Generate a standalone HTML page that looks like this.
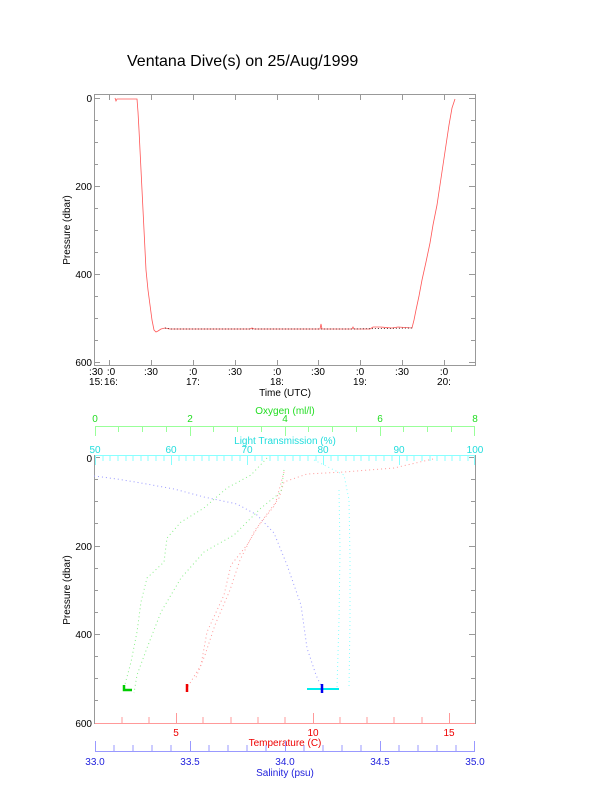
<!DOCTYPE html>
<html><head><style>
html,body{margin:0;padding:0;background:#fff;}
svg{display:block;font-family:"Liberation Sans",sans-serif;}
</style></head><body>
<svg width="612" height="785" viewBox="0 0 612 785" xmlns="http://www.w3.org/2000/svg">
<text x="127" y="66" font-size="16" fill="#000">Ventana Dive(s) on 25/Aug/1999</text>

<!-- TOP PLOT -->
<rect x="94.5" y="94.5" width="381" height="271" fill="none" stroke="#999" stroke-width="1"/>
<g stroke="#999" stroke-width="1">
<path d="M94 98.5h6M94 120.5h4M94 142.5h4M94 164.5h4M94 186.5h6M94 208.5h4M94 230.5h4M94 252.5h4M94 274.5h6M94 296.5h4M94 318.5h4M94 340.5h4M94 362.5h6"/>
<path d="M475 98.5h-6M475 120.5h-4M475 142.5h-4M475 164.5h-4M475 186.5h-6M475 208.5h-4M475 230.5h-4M475 252.5h-4M475 274.5h-6M475 296.5h-4M475 318.5h-4M475 340.5h-4M475 362.5h-6"/>
<path d="M109.5 365v-5M151.5 365v-5M193.5 365v-5M235.5 365v-5M277.5 365v-5M318.5 365v-5M360.5 365v-5M402.5 365v-5M444.5 365v-5"/>
<path d="M109.5 95v5M151.5 95v5M193.5 95v5M235.5 95v5M277.5 95v5M318.5 95v5M360.5 95v5M402.5 95v5M444.5 95v5"/>
</g>
<g font-size="10" fill="#000" text-anchor="end">
<text x="92" y="102">0</text><text x="92" y="190">200</text><text x="92" y="278">400</text><text x="92" y="366">600</text>
</g>
<g font-size="10" fill="#000" text-anchor="middle">
<text x="96" y="375">:30</text><text x="111" y="375">:0</text><text x="151" y="375">:30</text><text x="193" y="375">:0</text><text x="235" y="375">:30</text><text x="277" y="375">:0</text><text x="318" y="375">:30</text><text x="360" y="375">:0</text><text x="402" y="375">:30</text><text x="444" y="375">:0</text>
<text x="96" y="385">15:</text><text x="111" y="385">16:</text><text x="193" y="385">17:</text><text x="277" y="385">18:</text><text x="360" y="385">19:</text><text x="444" y="385">20:</text>
<text x="285" y="396">Time (UTC)</text>
</g>
<text transform="translate(70,230) rotate(-90)" font-size="10" text-anchor="middle">Pressure (dbar)</text>
<polyline fill="none" stroke="#f55" stroke-width="0.8" points="115,98 116,101 117,99 137,99 138,112 139,130 140,150 141,170 142,190 143,210 144,230 145,250 146,270 148,290 150,305 152,320 154,330 156,332 158,331 161,329 165,328 170,329 250,329 252,328 254,329 320,329 321,324 322,329 352,329 353,327 354,329 370,329 373,327 380,327 392,328 398,327 412,328 414,320 416,310 419,296 422,280 426,262 430,243 433,225 437,205 440,185 443,165 446,145 449,125 452,108 455,99"/>
<polyline fill="none" stroke="#300" stroke-width="0.8" stroke-dasharray="1 2" points="165,328 170,329 250,329 320,329 352,329 412,328"/>

<!-- BOTTOM PLOT -->
<rect x="94.5" y="455.5" width="381" height="268" fill="none" stroke="#999" stroke-width="1"/>
<g stroke="#999" stroke-width="1">
<path d="M94 457.5h6M94 479.5h4M94 501.5h4M94 523.5h4M94 546.5h6M94 568.5h4M94 590.5h4M94 612.5h4M94 634.5h6M94 656.5h4M94 678.5h4M94 700.5h4"/>
<path d="M475 457.5h-6M475 479.5h-4M475 501.5h-4M475 523.5h-4M475 546.5h-6M475 568.5h-4M475 590.5h-4M475 612.5h-4M475 634.5h-6M475 656.5h-4M475 678.5h-4M475 700.5h-4"/>
</g>
<g font-size="10" fill="#000" text-anchor="end">
<text x="92" y="462">0</text><text x="92" y="550">200</text><text x="92" y="638">400</text><text x="92" y="727">600</text>
</g>
<text transform="translate(70,590) rotate(-90)" font-size="10" text-anchor="middle">Pressure (dbar)</text>

<g stroke="#9f9" stroke-width="1"><path d="M95 426.5H475"/>
<path d="M95.5 426v10M118.5 426v6M142.5 426v6M166.5 426v6M190.5 426v10M213.5 426v6M237.5 426v6M261.5 426v6M285.5 426v10M308.5 426v6M332.5 426v6M356.5 426v6M380.5 426v10M403.5 426v6M427.5 426v6M451.5 426v6M474.5 426v10"/></g>
<g font-size="10" fill="#2d2" text-anchor="middle">
<text x="95" y="422">0</text><text x="190" y="422">2</text><text x="285" y="422">4</text><text x="380" y="422">6</text><text x="475" y="422">8</text>
<text x="285" y="414">Oxygen (ml/l)</text></g>

<g stroke="#8ff" stroke-width="1"><path d="M95 455.5H475"/>
<path d="M95.5 455v10M171.5 455v10M247.5 455v10M323.5 455v10M399.5 455v10M474.5 455v10"/>
<path d="M103 455v6M110 455v6M118 455v6M126 455v6M133 455v6M141 455v6M148 455v6M156 455v6M164 455v6M179 455v6M186 455v6M194 455v6M202 455v6M209 455v6M217 455v6M224 455v6M232 455v6M240 455v6M255 455v6M262 455v6M270 455v6M278 455v6M285 455v6M293 455v6M300 455v6M308 455v6M316 455v6M331 455v6M338 455v6M346 455v6M354 455v6M361 455v6M369 455v6M376 455v6M384 455v6M392 455v6M407 455v6M414 455v6M422 455v6M430 455v6M437 455v6M445 455v6M452 455v6M460 455v6M468 455v6"/></g>
<g font-size="10" fill="#2dd" text-anchor="middle">
<text x="95" y="453">50</text><text x="171" y="453">60</text><text x="247" y="453">70</text><text x="323" y="453">80</text><text x="399" y="453">90</text><text x="475" y="453">100</text>
<text x="285" y="444">Light Transmission (%)</text></g>

<g stroke="#f99" stroke-width="1"><path d="M95 723.5H475"/>
<path d="M176.5 723v-10M313.5 723v-10M449.5 723v-10"/>
<path d="M122 723v-6M149 723v-6M203 723v-6M231 723v-6M258 723v-6M285 723v-6M340 723v-6M367 723v-6M394 723v-6M422 723v-6"/></g>
<g font-size="10" fill="#e00" text-anchor="middle">
<text x="176" y="736">5</text><text x="313" y="736">10</text><text x="449" y="736">15</text>
<text x="285" y="746">Temperature (C)</text></g>

<g stroke="#99f" stroke-width="1"><path d="M95 751.5H475"/>
<path d="M95.5 751v-10M190.5 751v-10M285.5 751v-10M380.5 751v-10M474.5 751v-10"/>
<path d="M114 751v-6M133 751v-6M152 751v-6M171 751v-6M209 751v-6M228 751v-6M247 751v-6M266 751v-6M304 751v-6M323 751v-6M342 751v-6M361 751v-6M399 751v-6M418 751v-6M437 751v-6M456 751v-6"/></g>
<g font-size="10" fill="#22d" text-anchor="middle">
<text x="95" y="765">33.0</text><text x="190" y="765">33.5</text><text x="285" y="765">34.0</text><text x="380" y="765">34.5</text><text x="475" y="765">35.0</text>
<text x="285" y="776">Salinity (psu)</text></g>

<g fill="none" stroke-width="1" stroke-dasharray="1 3">
<polyline stroke="#99f" points="94,476 117,479 141,483 174,489 204,497 237,504 257,515 274,533 287,565 301,605 307,648 316,675 322,688"/>
<polyline stroke="#f99" points="433,459 394,468 344,472 307,474 284,482 279,498 261,522 247,545 231,565 224,595 207,632 201,665 187,688"/>
<polyline stroke="#f99" points="284,472 275,505 255,530 240,560 230,590 215,625 205,655 195,680"/>
<polyline stroke="#8e8" points="267,458 251,475 227,488 204,508 181,522 167,538 164,562 147,578 141,602 137,632 131,662 124,688"/>
<polyline stroke="#8e8" points="284,470 281,492 261,508 234,535 204,552 181,578 161,612 147,648 137,675 134,693"/>
<polyline stroke="#8ff" points="314,460 330,468 344,475 349,500 350,560 350,620 349,688"/>
<polyline stroke="#8ff" points="339,490 340,550 339,620 337,688"/>
</g>
<g stroke-width="2.5" fill="none">
<path d="M124 685v5h8" stroke="#0c0"/>
<path d="M187 684v8" stroke="#e00"/>
<path d="M307 689h32" stroke="#0ee" stroke-width="2"/>
<path d="M322 684v9" stroke="#00e"/>
</g>
</svg>
</body></html>
